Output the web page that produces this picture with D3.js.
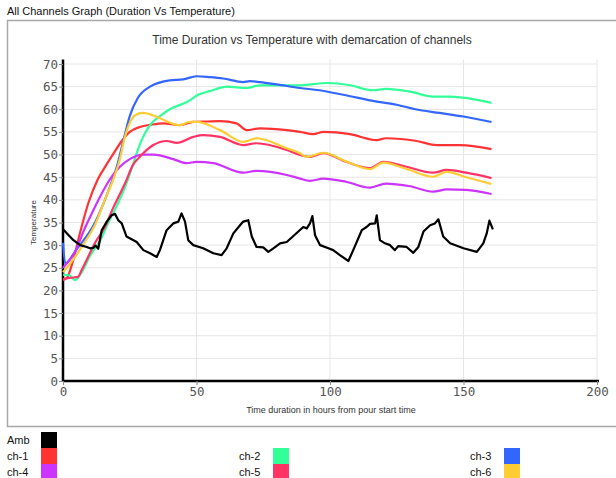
<!DOCTYPE html>
<html><head><meta charset="utf-8">
<script src="https://cdn.jsdelivr.net/npm/d3@7"></script>
<style>
body{margin:0;background:#fff;}
svg{display:block;}
</style></head>
<body>
<svg id="chart" width="616" height="478"></svg>
<script>
const seriesNames = ["Amb","ch-1","ch-2","ch-3","ch-4","ch-5","ch-6"];
const seriesColors = ["#000000","#ff3333","#33ff99","#3366ff","#cc33ff","#ff3366","#ffcc33"];
const xTicks = [0,50,100,150,200];
const yTicks = [0,5,10,15,20,25,30,35,40,45,50,55,60,65,70];

const amb = [[0,33.5],[3.9,31.1],[6.4,30],[8.9,29.6],[10.1,29.3],[11.3,29.4],[12.2,29.9],[13.2,29.2],[14.5,33.3],[16.4,35.2],[18.2,36.6],[19.5,36.9],[20.7,35.5],[22,34.8],[23.8,31.9],[27.6,30.7],[30.1,28.9],[32.6,28.2],[35.1,27.4],[36.3,28.9],[38.8,33.3],[41.3,34.8],[43.2,35.2],[44.4,37],[45.7,35.2],[46.9,31.1],[48.8,30],[52.5,29.3],[56.3,28.2],[59.4,27.8],[61.3,29.3],[63.8,32.6],[66.3,34.4],[67.5,35.2],[69.4,35.5],[70.7,31.9],[72.5,29.6],[75,29.5],[76.9,28.5],[78.8,29.3],[81.3,30.4],[83.8,30.7],[90,34],[91.3,33.7],[92.5,34.8],[93.4,36.4],[94.4,32.2],[96.3,30],[99.4,29.3],[101.2,28.9],[103.7,27.8],[106.9,26.5],[108.7,28.9],[111.9,33.3],[113.7,34],[115,34.7],[116.9,34.8],[117.5,36.6],[118.7,31.1],[120.6,30.4],[122.5,30],[124.3,28.9],[125.6,29.8],[128.7,29.6],[131.2,28.3],[133.1,29.6],[135,33],[137.5,34.4],[139.3,34.8],[140.6,35.7],[142.4,31.9],[145,30.4],[150,29.3],[155,28.5],[157.4,30.4],[158.7,32.6],[159.7,35.4],[161,33.5]];
const ch1 = [[0,22.3],[1.5,22.8],[3.5,26],[6.5,33],[9.5,39.3],[13,44.5],[16,47.5],[19,50.3],[22,53],[25,55],[28.8,56.1],[33,56.6],[37.5,56.9],[43.8,56.5],[48.8,57.2],[54,57.3],[58.8,57.4],[65,56.9],[68.8,55.4],[73.8,55.8],[83.8,55.4],[88.8,55],[93.8,54.5],[97.5,55],[107.5,54.5],[117.5,53.2],[121,53.6],[132.5,53],[140,52.1],[148.7,52.1],[160.5,51.2]];
const ch2 = [[0,23.5],[2.5,23.3],[4.5,22.3],[7,24],[10,27.5],[13.9,31],[17,35],[20,38.5],[23,42.5],[25.5,46.5],[28,51],[30.5,54.5],[33,56.8],[36.3,58.5],[40,60],[46.4,61.6],[51,63.3],[55,64],[61.4,65],[68.8,64.7],[73.8,65.3],[88.8,65.3],[98.8,65.8],[107.5,65.3],[116,64.2],[121,64.5],[130,63.9],[138.6,62.8],[145,62.8],[160.5,61.4]];
const ch3 = [[0,30.5],[0.8,26],[5,29],[12,35],[17,42],[20,47],[23,54],[25,58.5],[28,62.5],[32.6,65],[40,66.4],[45,66.6],[50,67.3],[55,67.1],[60,66.8],[67.5,66],[70,66.2],[73.8,66],[80,65.5],[88.8,64.7],[96,64.2],[105,63.2],[117.5,61.7],[125,61],[132,60],[141,59.2],[150,58.4],[160.5,57.2]];
const ch4 = [[0,25],[4.5,28.5],[8,33.5],[12,38.5],[17,44],[21.3,47.3],[25,49],[30,50],[34,50],[41.3,49],[46.3,48.1],[50,48.4],[56.3,48.1],[67.5,46],[72.5,46.4],[83.8,45.5],[88.8,44.7],[92.5,44.2],[97.5,44.7],[106,44],[115,42.7],[121,43.6],[130,43],[138.6,41.8],[143.7,42.3],[151,42.2],[160.5,41.3]];
const ch5 = [[0,22.5],[3,22.8],[5.6,23],[7,24.5],[9.4,27.4],[12,30.5],[15.7,34],[19,38.5],[21.5,41.5],[23.8,44.4],[26,47.5],[28.8,49.5],[33.8,52.1],[38.8,53],[42.6,52.6],[48.8,53.9],[52.5,54.3],[58.8,53.9],[67.5,52.1],[72.5,52.5],[83.8,51],[88.8,49.9],[92.5,49.5],[97.5,50.3],[106,48.4],[115,47],[120,48.4],[128.7,47.3],[138.6,46],[143.7,46.6],[151,46],[160.5,44.8]];
const ch6 = [[0,24],[4,27],[8,30.5],[12,34.5],[16,40.5],[18.5,44],[21.3,49],[23,53.5],[25,57],[27,58.7],[30,59.2],[33,58.8],[36.3,58],[43.8,56.5],[47.6,57.2],[50,57.2],[58.8,55.4],[67.5,52.8],[72.5,53.6],[83.8,51.4],[88.8,50.3],[91.3,49.5],[97.5,50.4],[106,48.5],[115,46.8],[120,48.2],[128.7,46.8],[138.6,45.1],[143.7,46.2],[151,45],[160.5,43.5]];
const seriesData = [amb,ch1,ch2,ch3,ch4,ch5,ch6];

const svg = d3.select("#chart");
// outer titled box
svg.append("text").attr("x",7).attr("y",15).attr("font-family","Liberation Sans, Arial, sans-serif")
  .attr("font-size",11).attr("fill","#111").text("All Channels Graph (Duration Vs Temperature)");
svg.append("rect").attr("x",7.5).attr("y",20.5).attr("width",615).attr("height",406)
  .attr("fill","none").attr("stroke","#a8a8a8").attr("stroke-width",1.5);

svg.append("text").attr("x",312).attr("y",44).attr("text-anchor","middle")
  .attr("font-family","Liberation Sans, Arial, sans-serif").attr("font-size",12).attr("fill","#333")
  .text("Time Duration vs Temperature with demarcation of channels");

const x = d3.scaleLinear().domain([0,200]).range([63,597]);
const y = d3.scaleLinear().domain([0,70]).range([381,64]);

// grid
const g = svg.append("g");
g.selectAll("line.h").data(yTicks.filter(d=>d>0)).join("line")
  .attr("x1",x(0)).attr("x2",x(200)).attr("y1",d=>y(d)).attr("y2",d=>y(d))
  .attr("stroke","#e6e6e6").attr("stroke-width",1);
g.selectAll("line.v").data(xTicks.filter(d=>d>0)).join("line")
  .attr("x1",d=>x(d)).attr("x2",d=>x(d)).attr("y1",y(0)).attr("y2",y(71))
  .attr("stroke","#e6e6e6").attr("stroke-width",1);

// axes
const tickFont = "DejaVu Sans Mono, monospace";
const yAxis = svg.append("g").attr("transform",`translate(${x(0)},0)`)
  .call(d3.axisLeft(y).tickValues(yTicks).tickSize(4).tickPadding(1).tickFormat(d3.format("d")));
const xAxis = svg.append("g").attr("transform",`translate(0,${y(0)})`)
  .call(d3.axisBottom(x).tickValues(xTicks).tickSize(4).tickPadding(2).tickFormat(d3.format("d")));
[yAxis,xAxis].forEach(a=>{
  a.select(".domain").attr("stroke","#000").attr("stroke-width",2.5);
  a.selectAll(".tick line").attr("stroke","#888");
  a.selectAll(".tick text").attr("font-family",tickFont).attr("font-size",12.5).attr("fill","#555");
});
yAxis.select(".domain").attr("d",`M0,${y(0)}V${y(71)}`);
xAxis.select(".domain").attr("d",`M${x(0)},0H${x(200)+2}`);

svg.append("text").attr("x",331).attr("y",413).attr("text-anchor","middle")
  .attr("font-family","Liberation Sans, Arial, sans-serif").attr("font-size",9).attr("fill","#333")
  .text("Time duration in hours from pour start time");
svg.append("text").attr("transform",`translate(36,${y(35)}) rotate(-90)`).attr("text-anchor","middle")
  .attr("font-family","Liberation Sans, Arial, sans-serif").attr("font-size",8).attr("fill","#333")
  .text("Temperature");

// lines
const lineGen = d3.line().x(d=>x(d[0])).y(d=>y(d[1]));
const order = [1,2,3,4,5,6,0];
order.forEach(i=>{
  svg.append("path").datum(seriesData[i])
    .attr("d", lineGen.curve(i===0 ? d3.curveLinear : d3.curveMonotoneX))
    .attr("fill","none").attr("stroke",seriesColors[i]).attr("stroke-width",2.2)
    .attr("stroke-linejoin","round");
});

// legend
const legPos = [[7,0],[7,1],[239,1],[470,1],[7,2],[239,2],[470,2]];
const leg = svg.append("g");
seriesNames.forEach((n,i)=>{
  const [lx,row] = legPos[i];
  const ly = 432 + row*16;
  leg.append("text").attr("x",lx).attr("y",ly+12).attr("font-family","Liberation Sans, Arial, sans-serif")
    .attr("font-size",11).attr("fill","#111").text(n);
  leg.append("rect").attr("x",lx+34).attr("y",ly).attr("width",16).attr("height",16).attr("fill",seriesColors[i]);
});
</script>
</body></html>
